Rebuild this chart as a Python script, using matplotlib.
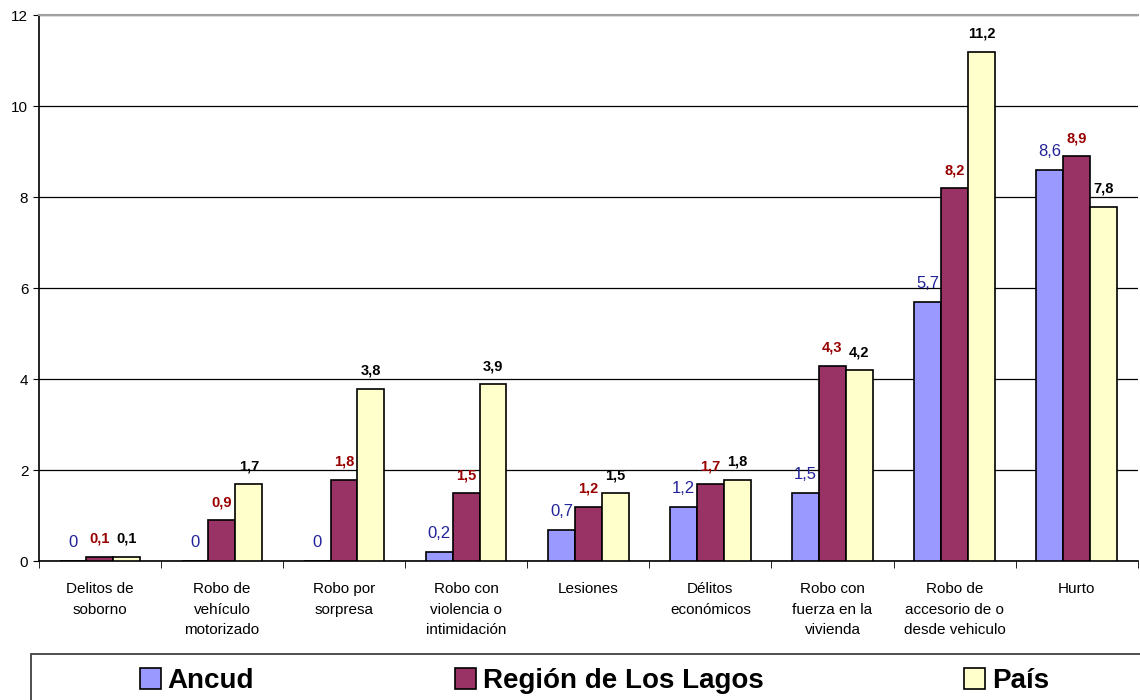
import numpy as np
import matplotlib.pyplot as plt
from matplotlib.patches import Rectangle

categories = ["Delitos de\nsoborno", "Robo de\nvehículo\nmotorizado", "Robo por\nsorpresa",
              "Robo con\nviolencia o\nintimidación", "Lesiones", "Délitos\neconómicos",
              "Robo con\nfuerza en la\nvivienda", "Robo de\naccesorio de o\ndesde vehiculo", "Hurto"]
ancud = [0, 0, 0, 0.2, 0.7, 1.2, 1.5, 5.7, 8.6]
region = [0.1, 0.9, 1.8, 1.5, 1.2, 1.7, 4.3, 8.2, 8.9]
pais = [0.1, 1.7, 3.8, 3.9, 1.5, 1.8, 4.2, 11.2, 7.8]
series_names = ["Ancud", "Región de Los Lagos", "País"]

plt.rcParams["font.family"] = ["Liberation Sans", "DejaVu Sans"]

fig = plt.figure(figsize=(11.4, 7), dpi=100)
ax = fig.add_axes([0.034, 0.198, 0.964, 0.780])

x = np.arange(len(categories))
w = 0.22
colors = ["#9999FF", "#993366", "#FFFFCC"]
lab_colors = ["#22229A", "#990000", "#000000"]
lab_weights = ["normal", "bold", "bold"]
lab_sizes = [12, 10.5, 10.5]
handles = []
for i, vals in enumerate([ancud, region, pais]):
    pos = x + (i - 1) * w
    b = ax.bar(pos, vals, w, color=colors[i], edgecolor="black", linewidth=1.2, zorder=3)
    handles.append(b)
    for p, v in zip(pos, vals):
        txt = str(v).replace(".", ",") if v != 0 else "0"
        ax.text(p, v + 0.24, txt, ha="center", va="bottom", color=lab_colors[i],
                fontsize=lab_sizes[i], fontweight=lab_weights[i])

ax.set_xlim(-0.5, len(categories) - 0.5)
ax.set_ylim(0, 12)
ax.set_yticks(range(0, 13, 2))
ax.tick_params(axis="y", labelsize=11, length=4, color="black")
ax.yaxis.grid(True, color="black", linewidth=0.9, zorder=0)
ax.set_xticks(x)
ax.set_xticklabels(categories, fontsize=11, linespacing=1.6, va="top")
ax.tick_params(axis="x", length=0, pad=15)
ax.set_xticks(np.arange(-0.5, len(categories), 1), minor=True)
ax.tick_params(axis="x", which="minor", length=5, color="black")
ax.spines["right"].set_visible(False)
ax.spines["top"].set_color("#A0A0A0")
ax.spines["top"].set_linewidth(1.5)
ax.spines["left"].set_linewidth(1.2)
ax.spines["bottom"].set_linewidth(1.2)

# legend box along the bottom
fig.patches.append(Rectangle((31 / 1140, -0.01), 1.0, 0.076, transform=fig.transFigure,
                             fill=False, edgecolor="#404040", linewidth=1.3))
leg_x = [140 / 1140, 455 / 1140, 964 / 1140]
for h, name, lx in zip(handles, series_names, leg_x):
    lg = fig.legend([h], [name], loc="center left", bbox_to_anchor=(lx, 0.027),
                    frameon=False, prop={"weight": "bold", "size": 20},
                    handlelength=0.75, handleheight=0.75, handletextpad=0.25,
                    borderpad=0, borderaxespad=0)

fig.savefig("out.png", dpi=100)
